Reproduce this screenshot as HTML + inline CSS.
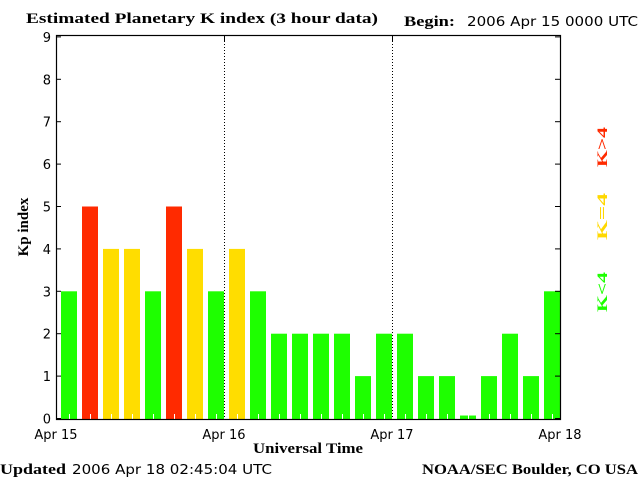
<!DOCTYPE html>
<html><head><meta charset="utf-8"><style>
body{margin:0;background:#fff;}
svg{display:block}
.s{font-family:"DejaVu Sans","Liberation Sans",sans-serif;font-size:13px}
.b{font-family:"Liberation Serif",serif;font-weight:bold;font-size:15px}
</style></head><body>
<svg id="c" width="640" height="480">
<rect width="640" height="480" fill="#fff"/>
<text class="b" x="26" y="23" textLength="352" lengthAdjust="spacingAndGlyphs">Estimated Planetary K index (3 hour data)</text>
<text class="b" x="404" y="26" textLength="51" lengthAdjust="spacingAndGlyphs">Begin:</text>
<text class="s" x="467" y="26" textLength="171" lengthAdjust="spacingAndGlyphs">2006 Apr 15 0000 UTC</text>
<text class="b" x="0" y="474" textLength="66" lengthAdjust="spacingAndGlyphs">Updated</text>
<text class="s" x="72" y="474" textLength="200" lengthAdjust="spacingAndGlyphs">2006 Apr 18 02:45:04 UTC</text>
<text class="b" x="422" y="474" textLength="216" lengthAdjust="spacingAndGlyphs">NOAA/SEC Boulder, CO USA</text>
<text class="b" x="253" y="453" textLength="110" lengthAdjust="spacingAndGlyphs">Universal Time</text>
<text class="b" transform="translate(28,227) rotate(-90)" text-anchor="middle">Kp index</text>
<g transform="translate(607,167) rotate(-90)"><text class="b" x="0" fill="#ff2a00" font-size="20" textLength="40" lengthAdjust="spacingAndGlyphs">K&gt;4</text></g>
<g transform="translate(607,240) rotate(-90)"><text class="b" x="0" fill="#ffd800" font-size="20" textLength="47" lengthAdjust="spacingAndGlyphs">K=4</text></g>
<g transform="translate(607,312) rotate(-90)"><text class="b" x="0" fill="#1eff00" font-size="20" textLength="40" lengthAdjust="spacingAndGlyphs">K&lt;4</text></g>
<g id="plot"></g>
</svg>
<script>
const kpValues=[3,5,4,4,3,5,4,3,4,3,2,2,2,2,1,2,2,1,1,0.07,1,2,1,3];
const yTicks=[0,1,2,3,4,5,6,7,8,9];
const dayLabels=["Apr 15","Apr 16","Apr 17","Apr 18"];
const L=56,R=560,T=35,B=419;
const ns="http://www.w3.org/2000/svg";
const g=document.getElementById('plot');
const ys=v=>418.5-v*42.4;
const xs=i=>L+(R-L)*i/kpValues.length;
function mk(t,a){const e=document.createElementNS(ns,t);for(const k in a)e.setAttribute(k,a[k]);g.appendChild(e);return e;}
kpValues.forEach((v,i)=>{
 const col=v>4?"#ff2a00":v==4?"#ffdd00":"#1eff00";
 const x=xs(i)+5;
 const r=mk('rect',{x:x,y:ys(v),width:16,height:B-ys(v),fill:col});
 
 
 const t=mk('line',{x1:x+8.5,x2:x+8.5,y1:B-5,y2:B,stroke:"#fff","stroke-width":1});
 
 
});
const ax=mk('rect',{x:L+0.5,y:T+0.5,width:R-L,height:B-T,fill:"none",stroke:"#000","stroke-width":1.2});


yTicks.forEach(v=>{
 const y=ys(v);
 mk('line',{x1:L,x2:L+5,y1:y,y2:y,stroke:"#000"});
 mk('line',{x1:R-5,x2:R,y1:y,y2:y,stroke:"#000"});
 const t=mk('text',{x:L-5,y:y+5,"text-anchor":"end",class:"s","font-size":"14"});
 t.textContent=v;
 
 
});
dayLabels.forEach((d,i)=>{
 const x=L+(R-L)*i/(dayLabels.length-1);
 if(i>0&&i<dayLabels.length-1){
  const l=mk('line',{x1:x+0.5,x2:x+0.5,y1:T,y2:B,stroke:"#000","stroke-dasharray":"1,2"});
  
  
 }
 mk('line',{x1:x+0.5,x2:x+0.5,y1:T,y2:T+6,stroke:"#000"});
 const t=mk('text',{x:x,y:439,"text-anchor":"middle",class:"s"});
 t.textContent=d;
 
 
});
</script>
</body></html>
